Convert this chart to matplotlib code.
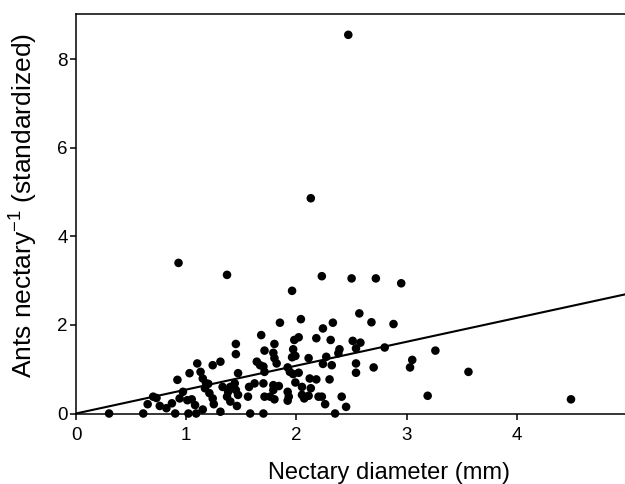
import matplotlib
matplotlib.use("Agg")
import matplotlib.pyplot as plt
import numpy as np

# Nectary diameter (mm)
diameter = [
    0.30, 0.61, 0.90, 1.02, 1.09, 1.15, 0.65, 0.76, 0.82, 0.87, 0.70, 0.73,
    0.92, 0.97, 0.94, 1.01, 1.05, 1.08, 1.03, 1.10, 1.13, 1.15, 1.18, 1.17,
    1.24, 1.31, 1.21, 1.24, 1.25, 1.31, 1.33, 1.38, 1.37, 1.40, 1.44, 1.45,
    1.47, 1.46, 1.45, 1.45, 1.47, 1.57, 1.56, 1.58, 1.64, 1.67, 1.68, 1.71,
    1.70, 1.62, 1.70, 1.71, 1.70, 1.40, 1.20,
    2.23, 2.50, 2.72, 2.95, 1.96, 2.57, 2.04, 1.85, 2.33, 2.68, 2.88, 2.24,
    2.02, 1.98, 2.18, 2.31, 2.51, 2.58, 1.80, 1.97, 1.79, 2.39, 2.38, 2.54,
    2.80, 3.26, 1.80, 1.82, 1.96, 1.99, 2.11, 2.27, 2.24, 2.32, 2.54, 2.70,
    3.05, 3.03, 1.92, 1.94, 1.97, 2.02, 2.54, 1.79, 1.84, 1.99, 2.05, 2.12,
    2.18, 2.30, 2.13, 1.79, 1.92, 1.76, 1.80, 1.93, 1.92, 2.05, 2.07, 2.11,
    2.20, 2.23, 2.41, 2.26, 2.45, 3.19, 2.35, 1.71, 3.56, 4.49,
    2.47, 2.13, 0.93, 1.37,
]

# Ants per nectary (standardized)
ants = [
    0.00, 0.00, 0.00, 0.00, 0.00, 0.09, 0.21, 0.17, 0.12, 0.23, 0.38, 0.35,
    0.76, 0.49, 0.34, 0.30, 0.32, 0.19, 0.91, 1.13, 0.94, 0.79, 0.68, 0.57,
    1.09, 1.17, 0.46, 0.34, 0.21, 0.04, 0.60, 0.49, 0.38, 0.60, 0.68, 0.53,
    0.42, 0.17, 1.57, 1.34, 0.91, 0.60, 0.38, 0.00, 1.17, 1.09, 1.77, 1.42,
    1.06, 0.68, 0.68, 0.38, 0.00, 0.27, 0.67,
    3.10, 3.05, 3.05, 2.94, 2.77, 2.26, 2.13, 2.05, 2.05, 2.06, 2.02, 1.92,
    1.72, 1.66, 1.70, 1.66, 1.64, 1.60, 1.57, 1.45, 1.37, 1.45, 1.36, 1.47,
    1.49, 1.42, 1.25, 1.13, 1.27, 1.30, 1.25, 1.28, 1.12, 1.09, 1.13, 1.04,
    1.21, 1.04, 1.04, 0.94, 0.89, 0.92, 0.92, 0.64, 0.62, 0.70, 0.60, 0.79,
    0.77, 0.77, 0.57, 0.53, 0.49, 0.38, 0.32, 0.38, 0.29, 0.42, 0.34, 0.40,
    0.38, 0.38, 0.38, 0.21, 0.15, 0.40, 0.00, 0.94, 0.94, 0.32,
    8.55, 4.86, 3.40, 3.13,
]

# Regression through the origin
slope = 0.54
intercept = 0.0

x_ticks = [0, 1, 2, 3, 4]
y_ticks = [0, 2, 4, 6, 8]
x_label = "Nectary diameter (mm)"
y_label = r"Ants nectary$^{-1}$ (standardized)"

plt.rcParams['font.family'] = ['Liberation Sans', 'DejaVu Sans']
plt.rcParams['mathtext.fontset'] = 'custom'
plt.rcParams['mathtext.rm'] = 'Liberation Sans'
plt.rcParams['mathtext.it'] = 'Liberation Sans'

fig = plt.figure(figsize=(6.25, 4.84), dpi=100)
ax = fig.add_axes([76 / 625, 70.5 / 484, 549 / 625, 399.5 / 484])

xlim = (0, 4.98)
ylim = (0, 9.02)
ax.set_xlim(*xlim)
ax.set_ylim(*ylim)

ax.scatter(diameter, ants, s=38, color='black', edgecolors='none',
           clip_on=False, zorder=3)

xl = np.array(xlim)
ax.plot(xl, intercept + slope * xl, color='black', lw=1.5, zorder=2)

ax.spines['right'].set_visible(False)
for s in ['left', 'bottom', 'top']:
    ax.spines[s].set_linewidth(1.1)
    ax.spines[s].set_color('black')

ax.set_xticks(x_ticks)
ax.set_yticks(y_ticks)
ax.tick_params(axis='both', direction='out', length=4, width=1.1,
               labelsize=13.5, colors='black')
ax.tick_params(axis='x', pad=6)
ax.tick_params(axis='y', pad=2)
ax.tick_params(top=False, right=False)

ax.set_xlabel(x_label, fontsize=17)
ax.set_ylabel(y_label, fontsize=19)
ax.xaxis.set_label_coords(0.571, -0.122)
ax.yaxis.set_label_coords(-0.066, 0.52)

fig.savefig("out.png", dpi=100)
